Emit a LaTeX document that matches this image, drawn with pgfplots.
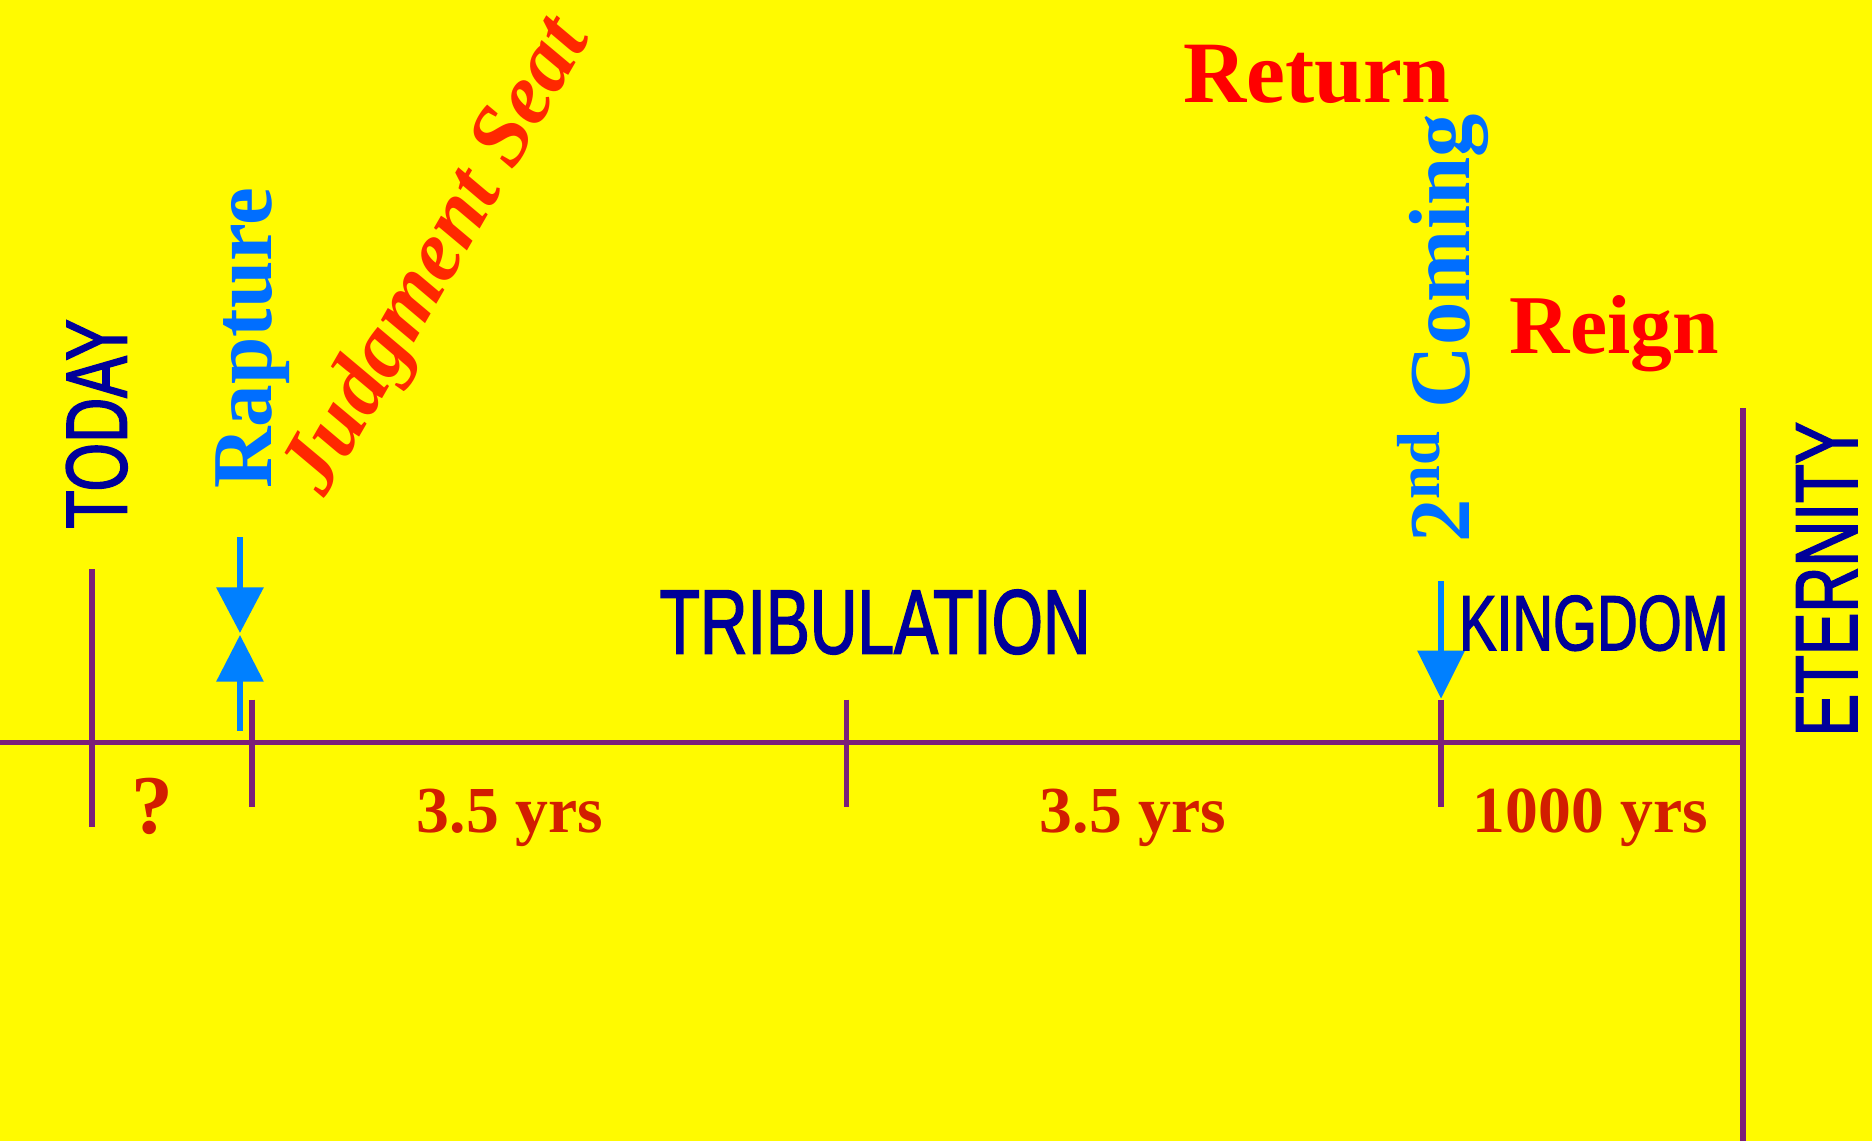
\documentclass[border=0pt]{standalone}
\usepackage{pgfplots}
\pgfplotsset{compat=1.18}
\usepackage{fontspec}
\setmainfont{Liberation Serif}
\newfontfamily\narrow[FakeStretch=0.72, FakeBold=1.6]{Liberation Sans}
\definecolor{bg}{RGB}{255,250,0}
\definecolor{lin}{RGB}{123,31,122}
\definecolor{navy}{RGB}{0,0,153}
\definecolor{arr}{RGB}{0,128,255}
\definecolor{btext}{RGB}{0,110,255}
\definecolor{jred}{RGB}{255,40,0}
\definecolor{rred}{RGB}{255,0,0}
\definecolor{yrs}{RGB}{210,30,0}
\begin{document}
\begin{tikzpicture}
\begin{axis}[width=470.4pt, height=286.8pt, scale only axis,
  xmin=0, xmax=1568, ymin=0, ymax=956, y dir=reverse,
  axis lines=none, clip=true]
% background
\addplot[fill=bg, draw=none] coordinates {(0,0) (1568,0) (1568,956) (0,956)} -- cycle;
% timeline
\addplot[lin, line width=1.45pt] coordinates {(0,622) (1460,622)};
\addplot[lin, line width=1.45pt] coordinates {(1460,342) (1460,956)};
\addplot[lin, line width=1.45pt] coordinates {(77,477) (77,693)};
\addplot[lin, line width=1.45pt] coordinates {(211,586) (211,676)};
\addplot[lin, line width=1.45pt] coordinates {(709,586) (709,676)};
\addplot[lin, line width=1.45pt] coordinates {(1207,586) (1207,676)};
% rapture arrows
\addplot[arr, line width=1.5pt] coordinates {(201,450) (201,495)};
\addplot[fill=arr, draw=none] coordinates {(181,492) (221,492) (201,530)} -- cycle;
\addplot[fill=arr, draw=none] coordinates {(181,571) (221,571) (201,532)} -- cycle;
\addplot[arr, line width=1.5pt] coordinates {(201,568) (201,612)};
% 2nd coming arrow
\addplot[arr, line width=1.5pt] coordinates {(1207,487) (1207,548)};
\addplot[fill=arr, draw=none] coordinates {(1187,545) (1227,545) (1207,585)} -- cycle;
% texts
\node[navy, rotate=90, inner sep=0, font=\narrow\fontsize{21.8}{24}\selectfont] at (axis cs:81,355) {TODAY};
\node[navy, inner sep=0, font=\narrow\fontsize{23}{26}\selectfont] at (axis cs:733,521) {TRIBULATION};
\node[navy, inner sep=0, font=\narrow\fontsize{19.7}{22}\selectfont] at (axis cs:1335,522) {KINGDOM};
\node[navy, rotate=90, inner sep=0, font=\narrow\fontsize{22.2}{25}\selectfont] at (axis cs:1530,485) {ETERNITY};
\node[btext, rotate=90, anchor=base, inner sep=0, font=\bfseries\fontsize{21.4}{24}\selectfont] at (axis cs:227,283) {Rapture};
\node[btext, rotate=90, anchor=base, inner sep=0, font=\bfseries\fontsize{21.8}{24}\selectfont] at (axis cs:1231,275) {2\textsuperscript{nd} Coming};
\node[jred, rotate=60, inner sep=0, font=\bfseries\itshape\fontsize{21.8}{25}\selectfont] at (axis cs:368,216) {Judgment Seat};
\node[rred, anchor=base, inner sep=0, font=\bfseries\fontsize{22}{24}\selectfont] at (axis cs:1103,86) {Return};
\node[rred, anchor=base, inner sep=0, font=\bfseries\fontsize{21}{24}\selectfont] at (axis cs:1352,296) {Reign};
\node[yrs, anchor=base, inner sep=0, font=\bfseries\fontsize{21}{24}\selectfont] at (axis cs:128,698) {?};
\node[yrs, anchor=base, inner sep=0, font=\bfseries\fontsize{16.5}{20}\selectfont] at (axis cs:427,697) {3.5 yrs};
\node[yrs, anchor=base, inner sep=0, font=\bfseries\fontsize{16.5}{20}\selectfont] at (axis cs:949,697) {3.5 yrs};
\node[yrs, anchor=base, inner sep=0, font=\bfseries\fontsize{16.5}{20}\selectfont] at (axis cs:1332,697) {1000 yrs};
\end{axis}
\pgfresetboundingbox
\path[use as bounding box] (current axis.south west) rectangle (current axis.north east);
\end{tikzpicture}
\end{document}
